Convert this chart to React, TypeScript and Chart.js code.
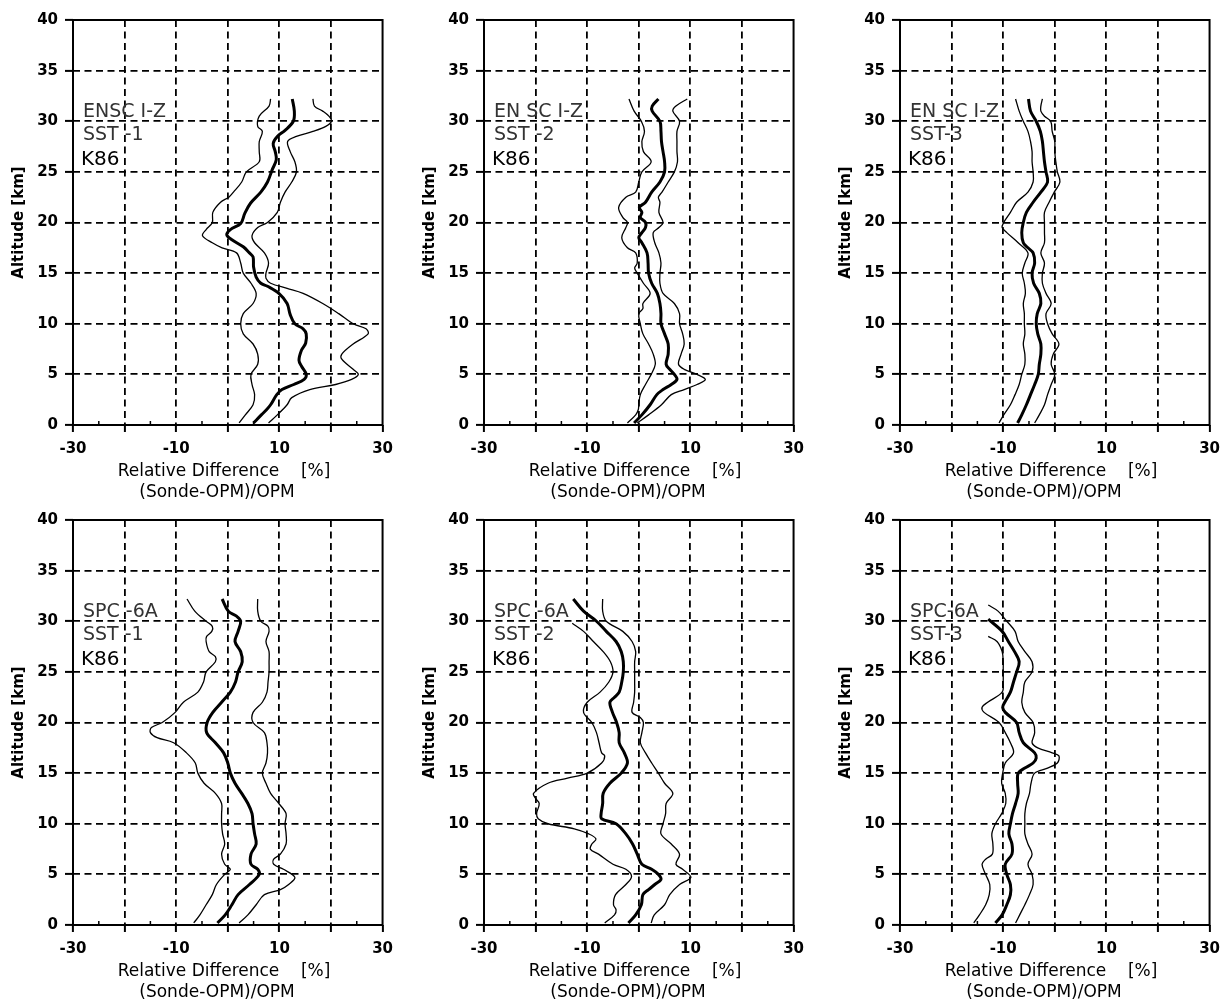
import React, { useEffect, useRef } from 'react';
import { Chart, registerables } from 'chart.js';

Chart.register(...registerables);

// each profile point: [altitude km, relative difference %]
type Pt = [number, number];

const X_MIN = -30;
const X_MAX = 30;
const Y_MIN = 0;
const Y_MAX = 40;
const xTickLabels = [-30, -10, 10, 30];
const xMinorTicks = [-25, -15, -5, 5, 15, 25];
const yTickLabels = [0, 5, 10, 15, 20, 25, 30, 35, 40];
const xTitle = ['Relative Difference    [%]', '(Sonde-OPM)/OPM'];
const yTitle = 'Altitude [km]';

// ENSC I-Z / SST-1
const enscSst1Mean: Pt[] = [[0.2,5.0],[1,6.5],[1.5,7.5],[2,8.3],[3,9.5],[3.5,10.5],[4,12.8],[4.5,14.8],[5,15.2],[5.8,14.3],[6.4,13.8],[7.4,14.3],[8.1,15.1],[9,15.2],[9.5,14.6],[10,13.0],[10.9,12.1],[12,11.5],[13,9.9],[13.7,7.7],[14,6.4],[14.6,5.5],[15.6,5.0],[16.6,4.9],[17,4.2],[17.6,3.0],[18.3,0.8],[18.8,-0.2],[19.3,0.5],[19.9,2.5],[20.9,3.3],[21.9,4.4],[23,6.4],[24,7.7],[25.2,8.6],[26.2,9.4],[27,9.2],[27.8,8.8],[28.5,9.6],[29.1,11.1],[30,12.7],[31,12.9],[32.2,12.5]];
const enscSst1Low: Pt[] = [[0.2,2.2],[1,3.4],[2,4.9],[3,5.2],[4,4.7],[5,4.5],[6,5.8],[7,5.8],[8,4.9],[9,3.0],[10,2.5],[11,3.0],[12,4.9],[13,5.5],[14,4.5],[15,3.0],[16,2.5],[17,1.7],[17.5,-1.1],[18,-3.0],[18.7,-4.9],[19.3,-4.2],[20,-3.0],[21,-2.9],[22,-1.4],[22.5,0.2],[23,1.1],[24,2.7],[25,3.6],[26,6.1],[27,6.1],[28,6.1],[29,6.7],[29.5,5.8],[30.5,6.1],[31.5,8.0],[32.2,8.3]];
const enscSst1High: Pt[] = [[0.2,7.9],[1,9.6],[2,11.5],[2.7,12.4],[3.5,15.9],[4,20.9],[4.5,24.0],[5,25.3],[5.5,24.3],[6.5,22.1],[7,22.1],[8,24.3],[9,27.2],[9.5,26.8],[10,24.3],[11,21.5],[12,18.4],[13,14.6],[13.5,11.5],[14,8.3],[14.5,7.4],[15,7.4],[16,7.9],[17,7.1],[18,5.2],[18.7,4.7],[19.5,5.8],[20,7.7],[21,9.6],[22,10.2],[23,11.1],[24,12.4],[25,13.3],[26,13.0],[27,12.1],[28,11.6],[28.5,13.3],[29,16.5],[29.5,19.0],[30,20.1],[30.5,19.6],[31,18.4],[31.5,16.8],[32.2,16.5]];

// ENSC I-Z / SST-2
const enscSst2Mean: Pt[] = [[0.2,-0.9],[1,0.6],[2,2.2],[3,3.5],[3.5,4.7],[4,6.3],[4.5,7.4],[5,6.9],[5.5,6.0],[6,5.3],[7,5.7],[8,5.7],[9,5.0],[10,4.3],[11,4.3],[12,4.1],[13,3.6],[14,2.5],[15,1.9],[16,1.8],[17,1.6],[18,0.6],[18.5,0.0],[19,0.6],[19.5,1.3],[20,1.3],[20.5,0.3],[21,0.6],[21.5,0.1],[22,1.3],[23,2.5],[24,4.1],[25,5.0],[26,5.0],[27,4.7],[28,4.4],[29,4.3],[30,4.1],[31,2.6],[31.5,2.6],[32.2,3.8]];
const enscSst2Low: Pt[] = [[0.2,-2.2],[1,-0.6],[1.5,-0.1],[2,0.0],[3,0.3],[4,1.3],[5,2.4],[6,3.2],[7,2.8],[8,1.9],[9,0.8],[10,0.3],[11,0.0],[11.5,0.8],[12,0.8],[13,2.2],[14,0.9],[15,-0.3],[15.5,-0.8],[16,-0.3],[17,-0.6],[17.5,-2.2],[18.5,-3.3],[19.5,-2.5],[20,-2.2],[20.5,-3.1],[21.5,-3.9],[22.5,-2.5],[23,-0.6],[24,0.0],[25,0.6],[26,2.4],[27,0.9],[28,0.6],[29,1.1],[30,0.5],[31,-0.9],[32.2,-1.9]];
const enscSst2High: Pt[] = [[0.2,-0.3],[1,1.9],[2,4.4],[3,6.3],[3.5,8.8],[4,11.3],[4.5,12.9],[5,11.3],[5.5,8.8],[6,7.7],[7,8.2],[8,8.8],[9,8.5],[10,7.9],[11,7.9],[12,6.9],[13,4.7],[14,4.1],[15,4.1],[16,4.3],[17,3.9],[18,3.1],[19,2.8],[19.5,3.9],[20,4.7],[21,3.9],[22,4.1],[22.5,3.8],[23,4.5],[24,5.7],[25,6.9],[26,7.5],[27,7.4],[28,7.4],[29,7.4],[30,7.9],[31,6.6],[31.5,7.2],[32.2,9.4]];

// ENSC I-Z / SST-3
const enscSst3Mean: Pt[] = [[0.2,-7.2],[1,-6.4],[2,-5.5],[3,-4.7],[4,-3.9],[5,-3.2],[6,-3.0],[7,-2.7],[8,-2.7],[9,-3.3],[10,-3.6],[11,-3.4],[12,-2.7],[13,-3.0],[14,-4.1],[15,-4.4],[16,-3.9],[17,-4.2],[17.5,-5.2],[18,-6.1],[19,-6.4],[20,-6.1],[21,-5.5],[22,-4.2],[23,-2.7],[24,-1.4],[25,-1.7],[26,-2.0],[27,-2.2],[28,-2.4],[29,-2.8],[30,-3.6],[31,-4.7],[32.2,-5.1]];
const enscSst3Low: Pt[] = [[0.2,-10.8],[1,-9.9],[2,-8.6],[3,-7.7],[4,-6.9],[5,-6.4],[6,-5.8],[7,-5.8],[8,-6.1],[9,-5.8],[10,-5.9],[11,-5.9],[12,-6.1],[13,-5.7],[14,-5.9],[15,-6.3],[16,-5.8],[17,-5.2],[18,-7.1],[19,-9.3],[19.5,-10.2],[20,-9.9],[21,-8.6],[22,-7.4],[23,-5.2],[24,-4.2],[25,-4.2],[26,-4.4],[27,-4.4],[28,-4.7],[29,-5.2],[30,-6.1],[31,-6.9],[32.2,-7.6]];
const enscSst3High: Pt[] = [[0.2,-3.9],[1,-3.0],[2,-2.0],[3,-1.4],[4,-0.7],[5,0.0],[6,-0.7],[7,-0.3],[8,0.8],[9,-0.5],[10,-1.4],[11,-1.7],[12,-0.7],[13,-1.7],[14,-2.4],[15,-2.4],[16,-2.0],[17,-2.7],[18,-2.0],[19,-2.0],[20,-2.0],[21,-2.0],[22,-1.1],[23,-0.1],[24,1.0],[25,0.5],[26,0.2],[27,0.0],[28,0.0],[29,-0.5],[30,-0.8],[30.5,-2.0],[31,-2.7],[31.5,-2.7],[32.2,-2.4]];

// SPC-6A / SST-1
const spcSst1Mean: Pt[] = [[0.2,-2.0],[1,-0.5],[2,0.8],[3,2.0],[4,4.2],[5,6.1],[5.5,5.8],[6,4.5],[7,4.5],[8,5.5],[9,5.2],[10,4.9],[11,4.7],[12,3.9],[13,2.7],[14,1.4],[15,0.5],[16,0.0],[17,-0.8],[18,-2.4],[19,-4.1],[20,-4.0],[21,-2.9],[22,-1.2],[23,0.5],[24,1.5],[25,2.0],[26,2.8],[27,2.5],[28,1.4],[29,2.0],[30,2.5],[30.5,1.7],[31,0.1],[32.2,-1.1]];
const spcSst1Low: Pt[] = [[0.2,-6.6],[1,-5.4],[2,-4.2],[3,-3.0],[4,-2.2],[5,-0.6],[5.5,0.5],[6,-0.6],[7,-1.2],[8,-0.6],[9,-1.0],[10,-1.2],[11,-1.2],[12,-1.2],[13,-2.4],[14,-4.6],[15,-5.8],[16,-6.3],[17,-8.0],[18,-10.5],[18.5,-13.7],[19,-15.0],[19.5,-14.8],[20,-12.7],[21,-10.2],[22,-8.6],[23,-5.8],[24,-4.7],[25,-4.2],[26,-2.4],[26.5,-2.4],[27,-3.6],[28,-4.2],[28.5,-4.1],[29,-3.1],[29.5,-3.0],[30,-4.2],[31,-6.4],[32.2,-7.9]];
const spcSst1High: Pt[] = [[0.2,2.2],[1,3.9],[2,5.5],[3,7.1],[3.5,10.2],[4,11.8],[4.7,13.0],[5.5,10.8],[6,8.9],[6.5,8.9],[7,10.2],[8,11.3],[9,11.3],[10,11.1],[11,11.3],[12,9.9],[13,8.3],[14,7.4],[15,6.7],[16,7.4],[17,7.7],[18,7.6],[19,7.1],[20,4.9],[21,4.9],[22,6.7],[23,7.6],[24,7.8],[25,8.0],[26,8.0],[27,8.0],[28,7.4],[29,8.0],[29.5,7.8],[30,6.4],[31,5.8],[32.2,5.8]];

// SPC-6A / SST-2
const spcSst2Mean: Pt[] = [[0.2,-2.0],[1,-0.6],[2,0.5],[3,0.8],[3.5,1.9],[4,3.1],[4.5,4.3],[5,3.8],[5.5,2.5],[6,0.6],[7,-0.3],[8,-1.2],[9,-2.5],[10,-4.4],[10.5,-7.2],[11,-7.3],[12,-7.0],[13,-6.9],[14,-5.6],[15,-3.4],[16,-2.2],[17,-2.8],[18,-3.8],[19,-3.8],[20,-4.3],[21,-5.1],[22,-5.6],[22.5,-4.7],[23,-3.8],[24,-3.3],[25,-3.0],[26,-3.0],[27,-3.4],[28,-4.4],[29,-6.3],[30,-8.2],[31,-10.7],[32.2,-12.7]];
const spcSst2Low: Pt[] = [[0.2,-6.6],[1,-4.7],[1.5,-4.4],[2,-4.9],[3,-4.5],[4,-2.5],[4.8,-1.4],[5.5,-2.5],[6,-5.0],[7,-7.8],[7.5,-9.4],[8,-9.1],[8.5,-8.3],[9,-9.7],[9.5,-12.5],[10,-17.6],[10.5,-19.5],[11,-19.8],[12,-19.3],[12.5,-20.0],[13,-20.4],[14,-17.6],[14.5,-13.8],[15,-10.0],[16,-7.2],[16.7,-6.6],[17,-7.2],[18,-7.7],[19,-8.2],[20,-9.1],[21,-10.7],[22,-10.0],[23,-7.5],[24,-5.8],[25,-5.0],[26,-5.5],[27,-6.9],[28,-8.8],[29,-10.7],[29.8,-12.9]];
const spcSst2High: Pt[] = [[0.2,2.4],[1,3.0],[2,5.0],[3,6.0],[4,7.9],[4.7,10.1],[5.5,8.5],[6,7.2],[7,7.9],[8,6.3],[9,4.3],[10,4.7],[11,5.2],[12,5.3],[13,6.6],[14,5.0],[15,3.8],[16,2.5],[17,1.3],[18,0.3],[19,0.6],[20,0.9],[20.5,0.3],[21,-1.3],[22,-1.0],[23,-0.8],[24,-0.8],[25,-0.8],[26,-0.8],[27,-0.6],[28,-1.3],[29,-3.1],[30,-6.3],[31,-7.0],[32.2,-7.0]];

// SPC-6A / SST-3
const spcSst3Mean: Pt[] = [[0.2,-11.5],[1,-10.2],[2,-9.3],[3,-8.6],[4,-8.6],[5,-9.3],[6,-9.6],[7,-8.3],[8,-8.3],[9,-8.9],[10,-8.6],[11,-8.2],[12,-7.6],[13,-7.1],[14,-7.2],[15,-7.1],[15.5,-5.8],[16,-4.2],[16.5,-3.6],[17,-3.9],[18,-6.1],[19,-6.9],[20,-7.4],[21,-9.6],[21.5,-10.1],[22,-9.7],[23,-8.6],[24,-8.0],[25,-7.4],[26,-6.9],[27,-7.8],[28,-9.0],[29,-10.2],[30.2,-12.9]];
const spcSst3Low: Pt[] = [[0.2,-15.7],[1,-14.6],[2,-13.4],[3,-12.7],[4,-12.6],[5,-13.4],[6,-14.1],[6.5,-13.4],[7,-12.1],[8,-12.0],[9,-12.2],[10,-11.5],[11,-10.3],[12,-9.5],[13,-9.6],[14,-10.3],[15,-10.1],[16,-9.6],[17,-8.0],[18,-8.6],[19,-9.6],[20,-10.8],[21,-13.7],[21.5,-14.1],[22,-13.0],[23,-10.2],[24,-10.0],[25,-10.0],[26,-10.0],[27,-10.2],[28,-11.2],[28.5,-12.9]];
const spcSst3High: Pt[] = [[0.2,-7.6],[1,-6.8],[2,-5.8],[3,-4.9],[4,-4.2],[5,-4.4],[6,-5.2],[7,-4.4],[8,-5.2],[9,-5.8],[10,-5.8],[11,-5.8],[12,-5.5],[13,-4.9],[14,-4.6],[15,-3.9],[15.5,-1.4],[16,0.5],[16.7,0.8],[17,-0.5],[17.5,-3.3],[18,-4.4],[19,-3.9],[20,-4.2],[21,-5.8],[22,-6.4],[23,-6.1],[24,-5.8],[25,-4.4],[26,-4.4],[27,-5.8],[28,-7.1],[29,-7.7],[30,-9.3],[31,-11.0],[31.6,-12.9]];

interface Panel {
  left: number;
  top: number;
  sonde: string;
  solution: string;
  method: string;
  mean: Pt[];
  low: Pt[];
  high: Pt[];
}

const panels: Panel[] = [
  { left: 0, top: 0, sonde: 'ENSC I-Z', solution: 'SST -1', method: 'K86', mean: enscSst1Mean, low: enscSst1Low, high: enscSst1High },
  { left: 411, top: 0, sonde: 'EN SC I-Z', solution: 'SST -2', method: 'K86', mean: enscSst2Mean, low: enscSst2Low, high: enscSst2High },
  { left: 827, top: 0, sonde: 'EN SC I-Z', solution: 'SST-3', method: 'K86', mean: enscSst3Mean, low: enscSst3Low, high: enscSst3High },
  { left: 0, top: 500, sonde: 'SPC -6A', solution: 'SST -1', method: 'K86', mean: spcSst1Mean, low: spcSst1Low, high: spcSst1High },
  { left: 411, top: 500, sonde: 'SPC -6A', solution: 'SST -2', method: 'K86', mean: spcSst2Mean, low: spcSst2Low, high: spcSst2High },
  { left: 827, top: 500, sonde: 'SPC-6A', solution: 'SST-3', method: 'K86', mean: spcSst3Mean, low: spcSst3Low, high: spcSst3High },
];

const CANVAS_W = 401;
const CANVAS_H = 504;
const FONT = '"DejaVu Sans", sans-serif';
const GRID_DASH = [7, 4.5];

const toXY = (pts: Pt[]) => pts.map(([km, v]) => ({ x: v, y: km }));

// frame, inward minor ticks, panel labels and the two-line x title
const panelDecor = {
  id: 'panelDecor',
  afterDraw(chart: any, _args: any, opts: any) {
    const { ctx, chartArea: a, scales } = chart;
    ctx.save();
    ctx.strokeStyle = '#000';
    ctx.lineWidth = 2;
    ctx.strokeRect(a.left, a.top, a.right - a.left, a.bottom - a.top);

    ctx.lineWidth = 1.5;
    xMinorTicks.forEach((v) => {
      const px = scales.x.getPixelForValue(v);
      ctx.beginPath();
      ctx.moveTo(px, a.bottom);
      ctx.lineTo(px, a.bottom - 4);
      ctx.stroke();
    });

    ctx.textBaseline = 'middle';
    ctx.textAlign = 'left';
    ctx.fillStyle = '#333';
    ctx.font = `19px ${FONT}`;
    ctx.fillText(opts.sonde, a.left + 10, a.top + 92);
    ctx.fillText(opts.solution, a.left + 10, a.top + 115);
    ctx.fillStyle = '#000';
    ctx.font = `20px ${FONT}`;
    ctx.fillText(opts.method, a.left + 8, a.top + 140);

    ctx.textAlign = 'center';
    ctx.font = `17px ${FONT}`;
    ctx.fillText(xTitle[0], a.left + 151, a.bottom + 47);
    ctx.fillText(xTitle[1], a.left + 144, a.bottom + 68);
    ctx.restore();
  },
};

const PanelChart: React.FC<{ panel: Panel }> = ({ panel }) => {
  const chartRef = useRef<HTMLCanvasElement>(null);

  useEffect(() => {
    if (!chartRef.current) return;
    const line = (pts: Pt[], width: number) => ({
      data: toXY(pts),
      borderColor: '#000',
      borderWidth: width,
      pointRadius: 0,
      fill: false,
      tension: 0.35,
    });

    const chart = new Chart(chartRef.current, {
      type: 'line',
      data: {
        datasets: [line(panel.low, 1.3), line(panel.high, 1.3), line(panel.mean, 3)],
      },
      plugins: [panelDecor],
      options: {
        animation: false,
        responsive: false,
        indexAxis: 'y',
        layout: { padding: { left: 0, right: 9.5, top: 20, bottom: 0 } },
        plugins: {
          legend: { display: false },
          tooltip: { enabled: false },
          panelDecor: { sonde: panel.sonde, solution: panel.solution, method: panel.method },
        } as any,
        scales: {
          x: {
            type: 'linear',
            position: 'bottom',
            min: X_MIN,
            max: X_MAX,
            afterFit: (scale: any) => {
              scale.height = CANVAS_H - 425;
            },
            ticks: {
              stepSize: 5,
              autoSkip: false,
              maxRotation: 0,
              padding: 8,
              color: '#000',
              font: { family: FONT, size: 15, weight: 'bold' },
              callback: (v: any) => (xTickLabels.includes(Number(v)) ? String(v) : ''),
            },
            grid: {
              color: (c: any) => {
                const v = c.tick?.value;
                return v !== undefined && v % 10 === 0 && v > X_MIN && v < X_MAX ? '#000' : 'rgba(0,0,0,0)';
              },
              tickColor: (c: any) => (c.tick && c.tick.value % 10 === 0 ? '#000' : 'rgba(0,0,0,0)'),
              lineWidth: 1.8,
              tickLength: 7,
              tickWidth: 2,
            },
            border: { display: false, dash: GRID_DASH },
          },
          y: {
            type: 'linear',
            position: 'left',
            min: Y_MIN,
            max: Y_MAX,
            afterBuildTicks: (scale: any) => {
              scale.ticks = yTickLabels.map((value) => ({ value }));
            },
            afterFit: (scale: any) => {
              scale.width = 73;
            },
            ticks: {
              padding: 7,
              color: '#000',
              font: { family: FONT, size: 15, weight: 'bold' },
            },
            grid: {
              color: (c: any) => {
                const v = c.tick?.value;
                return v !== undefined && v > Y_MIN && v < Y_MAX ? '#000' : 'rgba(0,0,0,0)';
              },
              tickColor: '#000',
              lineWidth: 1.8,
              tickLength: 8,
              tickWidth: 2,
            },
            border: { display: false, dash: GRID_DASH },
            title: {
              display: true,
              text: yTitle,
              color: '#000',
              font: { family: FONT, size: 15, weight: 'bold' },
              padding: { top: 10, bottom: 0 },
            },
          },
        },
      },
    });

    return () => {
      chart.destroy();
    };
  }, [panel]);

  return (
    <canvas
      ref={chartRef}
      width={CANVAS_W}
      height={CANVAS_H}
      style={{ position: 'absolute', left: panel.left, top: panel.top, width: CANVAS_W, height: CANVAS_H }}
    />
  );
};

export default function App() {
  return (
    <div
      style={{
        position: 'absolute',
        left: 0,
        top: 0,
        width: 1228,
        height: 1001,
        overflow: 'hidden',
        background: '#fff',
      }}
    >
      {panels.map((p, i) => (
        <PanelChart key={i} panel={p} />
      ))}
    </div>
  );
}
